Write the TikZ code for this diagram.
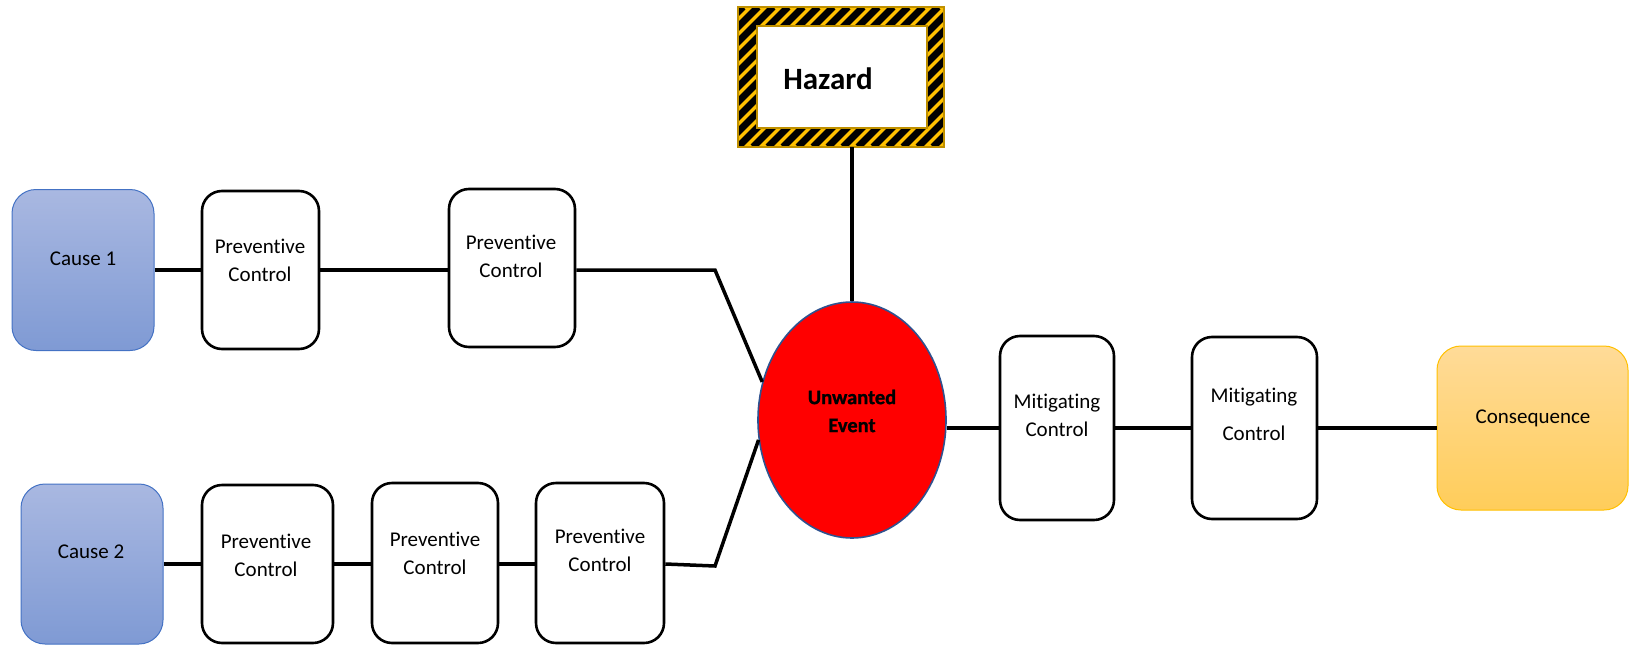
\documentclass[tikz,border=0pt]{standalone}
\usepackage{fontspec}
\setmainfont{Carlito}[Ligatures=NoCommon]
\newfontfamily\eventfont{Carlito Bold}[FakeBold=1.2, Ligatures=NoCommon]
\usetikzlibrary{shapes.geometric}

\definecolor{causetop}{RGB}{169,184,225}
\definecolor{causebot}{RGB}{127,154,212}
\definecolor{causeedge}{RGB}{68,114,196}
\definecolor{constop}{RGB}{255,219,152}
\definecolor{consbot}{RGB}{255,205,90}
\definecolor{consedge}{RGB}{255,192,0}
\definecolor{hzyellow}{RGB}{255,192,0}
\definecolor{hzedge}{RGB}{191,144,0}
\definecolor{evedge}{RGB}{47,82,143}

\begin{document}
\begin{tikzpicture}[x=1pt,y=-1pt,
  ctl/.style={draw=black, line width=2.6pt, rounded corners=20pt, fill=white, inner sep=0pt},
  cause/.style={draw=causeedge, line width=1pt, rounded corners=24pt,
                top color=causetop, bottom color=causebot, inner sep=0pt,
                minimum width=142pt},
  lbl/.style={align=center, font=\fontsize{21}{28}\selectfont, inner sep=0pt},
  link/.style={line width=3.5pt}]

\useasboundingbox (0,0) rectangle (1630,645);

% ---- hazard sign with striped frame ----
\node[fill=hzyellow, inner sep=0pt, minimum width=206pt, minimum height=140pt] (hz) at (841,77) {};
\begin{scope}
  \clip (hz.south west) rectangle (hz.north east);
  \foreach \k in {-11,...,15}
    \draw[black, line width=7pt] (738+\k*15,147) -- ++(140,-140);
\end{scope}
\draw[hzedge, line width=2pt] (hz.south west) rectangle (hz.north east);
\node[draw=hzedge, line width=2pt, fill=white, inner sep=0pt,
      minimum width=170pt, minimum height=102pt] (hzin) at (842,77) {};
\node[font=\fontsize{31}{36}\selectfont\bfseries, inner sep=0pt] (hzt) at (828,79) {Hazard};

% ---- unwanted event ----
\node[ellipse, draw=evedge, line width=1.6pt, fill=red, inner sep=0pt,
      minimum width=188pt, minimum height=236pt] (ue) at (852,420) {};
\node[lbl, font=\fontsize{20.5}{28}\selectfont\eventfont] (uet) at (852,411) {Unwanted\\Event};

% ---- causes and preventive controls ----
\node[cause, minimum height=161pt] (c1) at (83,270) {};
\node[lbl] (c1t) at (83,259) {Cause 1};
\node[ctl, minimum width=117pt, minimum height=158pt] (p1) at (260.5,270) {};
\node[lbl] (p1t) at (260,260.5) {Preventive\\Control};
\node[ctl, minimum width=126pt, minimum height=158pt] (p2) at (512,268) {};
\node[lbl] (p2t) at (511,256.5) {Preventive\\Control};
\coordinate (j1) at (715,270);

\node[cause, minimum height=160pt] (c2) at (92,564) {};
\node[lbl] (c2t) at (91,552) {Cause 2};
\node[ctl, minimum width=131pt, minimum height=158pt] (pa) at (267.5,564) {};
\node[lbl] (pat) at (266,555) {Preventive\\Control};
\node[ctl, minimum width=126pt, minimum height=160pt] (pb) at (435,563) {};
\node[lbl] (pbt) at (435,553) {Preventive\\Control};
\node[ctl, minimum width=128pt, minimum height=160pt] (pc) at (600,563) {};
\node[lbl] (pct) at (600,550) {Preventive\\Control};
\coordinate (j2) at (715,566);

% ---- mitigating controls and consequence ----
\node[ctl, minimum width=114pt, minimum height=184pt] (m1) at (1057,428) {};
\node[lbl] (m1t) at (1057,415.5) {Mitigating\\Control};
\node[ctl, minimum width=125pt, minimum height=182pt] (m2) at (1254.5,428) {};
\node[lbl, font=\fontsize{21}{38}\selectfont] (m2t) at (1254,414) {Mitigating\\Control};
\node[draw=consedge, line width=1pt, rounded corners=24pt, top color=constop,
      bottom color=consbot, inner sep=0pt, minimum width=191pt, minimum height=164pt]
      (cq) at (1532.5,428) {};
\node[lbl] (cqt) at (1533,418) {Consequence};

% ---- connectors ----
\draw[link] (c1.east) -- (p1.west);
\draw[link] (p1.east) -- (p2.west |- p1.east);
\draw[link] (p2.east |- p1.east) -- (j1) -- (ue.157);
\draw[link] (c2.east) -- (pa.west);
\draw[link] (pa.east) -- (pb.west |- pa.east);
\draw[link] (pb.east |- pa.east) -- (pc.west |- pa.east);
\draw[link] (pc.east |- pa.east) -- (j2) -- (ue.192);
\draw[link] (ue.north |- hz.south) -- (ue.north);
\draw[link] (ue.east |- m1.west) -- (m1.west);
\draw[link] (m1.east) -- (m2.west);
\draw[link] (m2.east) -- (cq.west);

\end{tikzpicture}
\end{document}
